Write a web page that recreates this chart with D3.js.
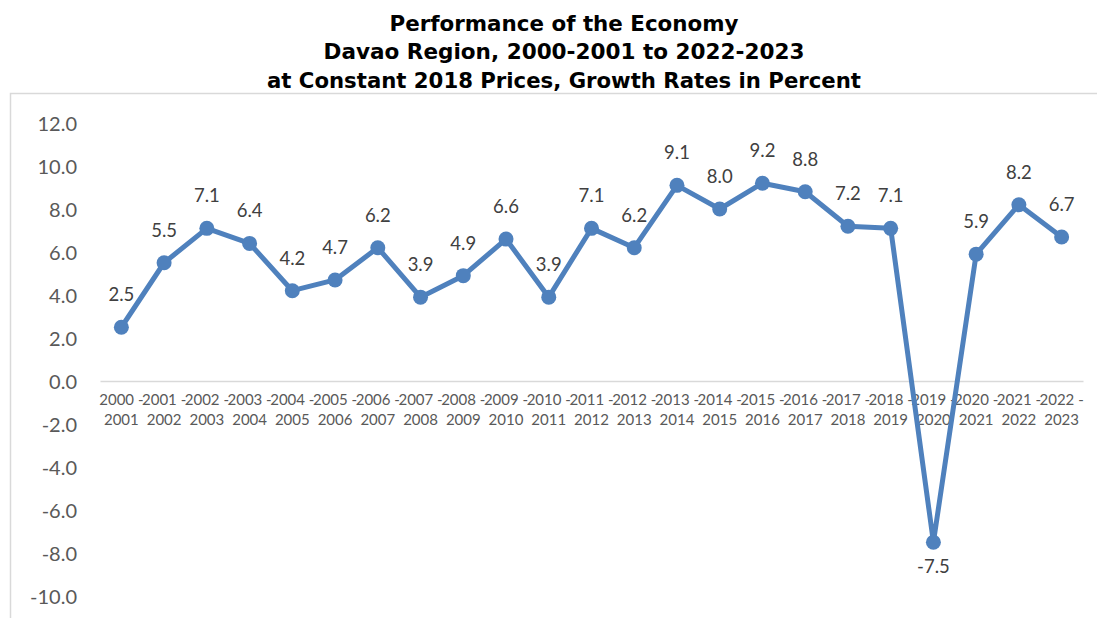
<!DOCTYPE html>
<html>
<head>
<meta charset="utf-8">
<script src="https://cdn.jsdelivr.net/npm/d3@7/dist/d3.min.js"></script>
<style>
  html, body { margin: 0; padding: 0; background: #ffffff; }
  svg { display: block; }
</style>
</head>
<body>
<svg id="chart" width="1097" height="618"></svg>
<script>
// Fiscal-year periods (two-line labels) and GDP growth rates, percent
const periodStart = ["2000","2001","2002","2003","2004","2005","2006","2007","2008","2009","2010","2011",
                     "2012","2013","2014","2015","2016","2017","2018","2019","2020","2021","2022"];
const periodEnd   = ["2001","2002","2003","2004","2005","2006","2007","2008","2009","2010","2011","2012",
                     "2013","2014","2015","2016","2017","2018","2019","2020","2021","2022","2023"];
const growthRates = [2.5, 5.5, 7.1, 6.4, 4.2, 4.7, 6.2, 3.9, 4.9, 6.6, 3.9, 7.1,
                     6.2, 9.1, 8.0, 9.2, 8.8, 7.2, 7.1, -7.5, 5.9, 8.2, 6.7];
const yTicks = [12, 10, 8, 6, 4, 2, 0, -2, -4, -6, -8, -10];
const titleLines = [
  "Performance of the Economy",
  "Davao Region, 2000-2001 to 2022-2023",
  "at Constant 2018 Prices, Growth Rates in Percent"
];

const periods = periodStart.map((s, i) => s + "-" + periodEnd[i]);
const data = periods.map((p, i) => ({ period: p, start: periodStart[i], end: periodEnd[i], value: growthRates[i] }));

// One decimal, plain hyphen for negatives
const fmt = v => v.toFixed(1);

const svg = d3.select("#chart");
const plot = { left: 100, right: 1083, top: 123, bottom: 596 };

const x = d3.scaleBand().domain(periods).range([plot.left, plot.right]).paddingInner(0).paddingOuter(0);
const cx = d => x(d.period) + x.bandwidth() / 2;
const y = d3.scaleLinear().domain([-10, 12]).range([plot.bottom, plot.top]);

const gray = "#595959";
const blue = "#4F81BD";

// Chart area outline (open to the right/bottom edges of the page)
svg.append("rect")
  .attr("x", 10.5).attr("y", 93.5)
  .attr("width", 1200).attr("height", 700)
  .attr("fill", "none").attr("stroke", "#d9d9d9").attr("stroke-width", 1.5);

// Title
const titleWidths = [349, 481, 594];
const titleBaselines = [31, 59, 88];
svg.append("g").selectAll("text").data(titleLines).join("text")
  .attr("x", 564)
  .attr("y", (d, i) => titleBaselines[i])
  .attr("text-anchor", "middle")
  .attr("font-family", "'DejaVu Sans', Verdana, sans-serif")
  .attr("font-weight", "bold")
  .attr("font-size", 21.5)
  .attr("fill", "#000")
  .attr("textLength", (d, i) => titleWidths[i])
  .attr("lengthAdjust", "spacingAndGlyphs")
  .text(d => d);

// Y axis (labels only)
const yAxis = d3.axisLeft(y).tickValues(yTicks).tickSize(0).tickPadding(0).tickFormat(fmt);
const yg = svg.append("g").attr("transform", `translate(77,0)`).call(yAxis);
yg.select(".domain").remove();
yg.selectAll("text")
  .attr("font-family", "Lato, 'Open Sans', sans-serif")
  .attr("font-size", 20)
  .attr("fill", gray)
  .attr("dy", "0.36em");

// Zero baseline with category labels beneath
const xAxis = d3.axisBottom(x).tickSize(0).tickFormat(() => "");
const xg = svg.append("g").attr("transform", `translate(0,${y(0)})`).call(xAxis);
xg.select(".domain").attr("stroke", "#d9d9d9").attr("stroke-width", 1.5);
xg.selectAll(".tick text").each(function(p) {
  const d = data.find(e => e.period === p);
  const t = d3.select(this)
    .attr("font-family", "Lato, 'Open Sans', sans-serif")
    .attr("font-size", 15)
    .attr("fill", gray)
    .attr("y", 0)
    .attr("dy", null);
  t.append("tspan").attr("x", 0).attr("y", 24).text(d.start + " -");
  t.append("tspan").attr("x", 0).attr("y", 44).text(d.end);
});

// Growth line
const line = d3.line().x(cx).y(d => y(d.value));
svg.append("path")
  .datum(data)
  .attr("d", line)
  .attr("fill", "none")
  .attr("stroke", blue)
  .attr("stroke-width", 5)
  .attr("stroke-linejoin", "round");

// Markers
svg.append("g").selectAll("circle").data(data).join("circle")
  .attr("cx", cx)
  .attr("cy", d => y(d.value))
  .attr("r", 7.5)
  .attr("fill", blue);

// Value labels: above for positive, below for negative
svg.append("g").selectAll("text").data(data).join("text")
  .attr("x", cx)
  .attr("y", d => d.value >= 0 ? y(d.value) - 26 : y(d.value) + 31)
  .attr("text-anchor", "middle")
  .attr("font-family", "Lato, 'Open Sans', sans-serif")
  .attr("font-size", 18.5)
  .attr("fill", "#404040")
  .text(d => fmt(d.value));
</script>
</body>
</html>
